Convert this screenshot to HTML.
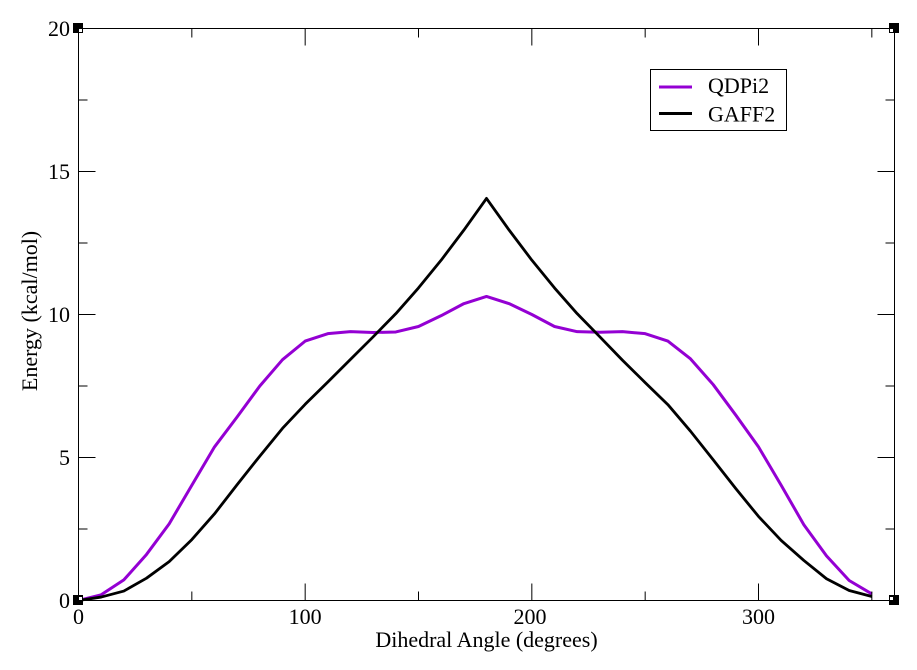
<!DOCTYPE html>
<html>
<head>
<meta charset="utf-8">
<style>
html,body{margin:0;padding:0;background:#fff;}
svg{display:block;}
text{font-family:"Liberation Serif","Times New Roman",serif;font-size:22px;fill:#000;}
</style>
</head>
<body>
<svg width="917" height="670" viewBox="0 0 917 670" xmlns="http://www.w3.org/2000/svg">
<rect x="0" y="0" width="917" height="670" fill="#fff"/>

<!-- data series -->
<g transform="translate(78.5,600.5) scale(2.26667,-28.6)">
  <polyline fill="none" stroke="#9400D3" stroke-width="3" vector-effect="non-scaling-stroke" stroke-linejoin="round"
    points="0,0 10,0.2 20,0.72 30,1.61 40,2.68 50,4.03 60,5.37 70,6.42 80,7.5 90,8.42 100,9.07 110,9.33 120,9.40 130,9.37 140,9.39 150,9.58 160,9.96 170,10.38 180,10.63 190,10.38 200,10.0 210,9.58 220,9.40 230,9.38 240,9.40 250,9.33 260,9.07 270,8.45 280,7.55 290,6.48 300,5.37 310,4.03 320,2.65 330,1.56 340,0.7 350,0.23"/>
  <polyline fill="none" stroke="#000" stroke-width="2.8" vector-effect="non-scaling-stroke" stroke-linejoin="round"
    points="0,0 10,0.12 20,0.33 30,0.78 40,1.36 50,2.13 60,3.03 70,4.05 80,5.05 90,6.02 100,6.86 110,7.64 120,8.43 130,9.22 140,10.03 150,10.93 160,11.9 170,12.95 180,14.06 190,12.95 200,11.9 210,10.93 220,10.03 230,9.22 240,8.4 250,7.62 260,6.85 270,5.92 280,4.92 290,3.91 300,2.94 310,2.1 320,1.4 330,0.76 340,0.35 350,0.14"/>
</g>

<!-- frame -->
<rect x="78.5" y="28.5" width="816" height="572" fill="none" stroke="#000" stroke-width="1"/>

<!-- ticks -->
<g stroke="#000" stroke-width="1">
  <line x1="305.17" y1="600.5" x2="305.17" y2="583.5"/>
  <line x1="531.83" y1="600.5" x2="531.83" y2="583.5"/>
  <line x1="758.5" y1="600.5" x2="758.5" y2="583.5"/>
  <line x1="305.17" y1="28.5" x2="305.17" y2="45.5"/>
  <line x1="531.83" y1="28.5" x2="531.83" y2="45.5"/>
  <line x1="758.5" y1="28.5" x2="758.5" y2="45.5"/>
  <line x1="191.83" y1="600.5" x2="191.83" y2="591.5"/>
  <line x1="418.5" y1="600.5" x2="418.5" y2="591.5"/>
  <line x1="645.17" y1="600.5" x2="645.17" y2="591.5"/>
  <line x1="871.83" y1="600.5" x2="871.83" y2="591.5"/>
  <line x1="191.83" y1="28.5" x2="191.83" y2="37.5"/>
  <line x1="418.5" y1="28.5" x2="418.5" y2="37.5"/>
  <line x1="645.17" y1="28.5" x2="645.17" y2="37.5"/>
  <line x1="871.83" y1="28.5" x2="871.83" y2="37.5"/>
  <line x1="78.5" y1="457.5" x2="95.5" y2="457.5"/>
  <line x1="78.5" y1="314.5" x2="95.5" y2="314.5"/>
  <line x1="78.5" y1="171.5" x2="95.5" y2="171.5"/>
  <line x1="894.5" y1="457.5" x2="877.5" y2="457.5"/>
  <line x1="894.5" y1="314.5" x2="877.5" y2="314.5"/>
  <line x1="894.5" y1="171.5" x2="877.5" y2="171.5"/>
  <line x1="78.5" y1="529" x2="87.5" y2="529"/>
  <line x1="78.5" y1="386" x2="87.5" y2="386"/>
  <line x1="78.5" y1="243" x2="87.5" y2="243"/>
  <line x1="78.5" y1="100" x2="87.5" y2="100"/>
  <line x1="894.5" y1="529" x2="885.5" y2="529"/>
  <line x1="894.5" y1="386" x2="885.5" y2="386"/>
  <line x1="894.5" y1="243" x2="885.5" y2="243"/>
  <line x1="894.5" y1="100" x2="885.5" y2="100"/>
</g>

<!-- corner markers -->
<g fill="#000">
  <rect x="73" y="23" width="10" height="10"/>
  <rect x="889" y="23" width="10" height="10"/>
  <rect x="73" y="595" width="10" height="10"/>
  <rect x="889" y="595" width="10" height="10"/>
</g>
<g fill="#fff">
  <rect x="79" y="29" width="3" height="3"/>
  <rect x="890" y="29" width="3" height="3"/>
  <rect x="79" y="597" width="3" height="3"/>
  <rect x="890" y="597" width="3" height="3"/>
</g>

<!-- x tick labels -->
<g text-anchor="middle">
  <text x="78.5" y="624">0</text>
  <text x="305.17" y="624">100</text>
  <text x="530" y="624">200</text>
  <text x="758.5" y="624">300</text>
</g>
<!-- y tick labels -->
<g text-anchor="end">
  <text x="70" y="608">0</text>
  <text x="70" y="465">5</text>
  <text x="70" y="322">10</text>
  <text x="70" y="179">15</text>
  <text x="70" y="36">20</text>
</g>

<!-- axis labels -->
<text x="486.5" y="647" text-anchor="middle">Dihedral Angle (degrees)</text>
<text transform="translate(37,311) rotate(-90)" text-anchor="middle">Energy (kcal/mol)</text>

<!-- legend -->
<rect x="650.5" y="69.5" width="136" height="61" fill="#fff" stroke="#000" stroke-width="1"/>
<line x1="659" y1="87" x2="692" y2="87" stroke="#9400D3" stroke-width="3"/>
<line x1="659" y1="113.5" x2="692" y2="113.5" stroke="#000" stroke-width="3"/>
<text x="708" y="93">QDPi2</text>
<text x="708" y="121.5">GAFF2</text>
</svg>
</body>
</html>
